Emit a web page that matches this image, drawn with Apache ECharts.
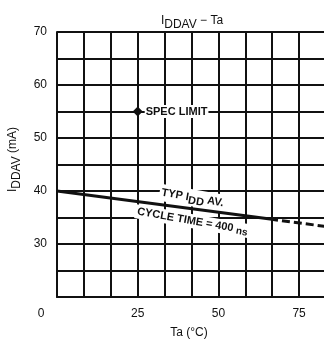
<!DOCTYPE html>
<html>
<head>
<meta charset="utf-8">
<script src="https://cdn.jsdelivr.net/npm/echarts@6/dist/echarts.min.js"></script>
<style>
html, body { margin: 0; padding: 0; background: #fff; }
#chart { width: 324px; height: 344px; }
</style>
</head>
<body>
<div id="chart"></div>
<script>
// data
var typLine = [[0, 40], [66, 34.7]];
var typLineDashed = [[66, 34.7], [83.3, 33.3]];
var specLimit = [[25, 55]];
var curveNotes = [[42, 38.7], [42, 34.3]];
var xTickLabels = [0, 25, 50, 75];
var yTickLabels = [30, 40, 50, 60, 70];

var font = 'Liberation Sans';
var ink = '#111';

var myChart = echarts.init(document.getElementById('chart'));
var option = {
	backgroundColor : '#fff',
	animation : false,
	title : {
		text : 'I{sub|DDAV} − Ta',
		left : 187,
		top : 6,
		textAlign : 'center',
		textStyle : {
			fontFamily : font,
			fontSize : 12,
			fontWeight : 'normal',
			color : ink,
			rich : {
				sub : { fontFamily : font, fontSize : 12, color : ink, padding : [8, 0, 0, 0] }
			}
		}
	},
	grid : {
		left : 57,
		right : -2,
		top : 32,
		bottom : 47,
		outerBoundsMode : 'none'
	},
	xAxis : {
		type : 'value',
		min : 0,
		max : 250 / 3,
		interval : 25 / 3,
		name : 'Ta (°C)',
		nameLocation : 'middle',
		nameGap : 30,
		nameTextStyle : { fontFamily : font, fontSize : 12, color : ink, padding : [0, 0, 0, -5] },
		axisLine : { lineStyle : { color : ink, width : 2 } },
		axisTick : { show : false },
		splitLine : { lineStyle : { color : ink, width : 2 } },
		axisLabel : {
			margin : 11,
			fontFamily : font,
			fontSize : 12,
			color : ink,
			showMaxLabel : false,
			formatter : function(v) {
				var r = Math.round(v);
				if (Math.abs(v - r) > 0.01 || xTickLabels.indexOf(r) < 0) return '';
				if (r === 0) return '{z|0}';
				return String(r);
			},
			rich : {
				z : { fontFamily : font, fontSize : 12, color : ink, padding : [0, 32, 0, 0] }
			}
		}
	},
	yAxis : {
		type : 'value',
		min : 20,
		max : 70,
		interval : 5,
		name : 'I{sub|DDAV} (mA)',
		nameLocation : 'middle',
		nameGap : 34,
		nameRotate : 90,
		nameTextStyle : {
			fontFamily : font,
			fontSize : 12,
			color : ink,
			padding : [0, 0, 0, 10],
			rich : {
				sub : { fontFamily : font, fontSize : 12, color : ink, padding : [8, 0, 0, 0] }
			}
		},
		axisLine : { show : true, lineStyle : { color : ink, width : 2 } },
		axisTick : { show : false },
		splitLine : { lineStyle : { color : ink, width : 2 } },
		axisLabel : {
			margin : 10,
			fontFamily : font,
			fontSize : 12,
			color : ink,
			formatter : function(v) {
				return yTickLabels.indexOf(v) >= 0 ? String(v) : '';
			}
		}
	},
	series : [ {
		type : 'line',
		data : typLine,
		symbol : 'none',
		lineStyle : { color : ink, width : 3 },
		z : 5
	}, {
		type : 'line',
		data : typLineDashed,
		symbol : 'none',
		lineStyle : { color : ink, width : 3, type : [8, 4] },
		z : 5
	}, {
		type : 'scatter',
		data : specLimit,
		symbol : 'diamond',
		symbolSize : 10,
		itemStyle : { color : ink, opacity : 1 },
		label : {
			show : true,
			position : 'right',
			distance : 2,
			formatter : 'SPEC LIMIT',
			fontFamily : font,
			fontSize : 11,
			fontWeight : 'bold',
			color : ink,
			opacity : 1,
			backgroundColor : '#fff',
			padding : [1, 1, 1, 1]
		},
		emphasis : { disabled : true },
		z : 6
	}, {
		type : 'scatter',
		data : curveNotes,
		symbolSize : 1,
		itemStyle : { color : 'rgba(0,0,0,0)', opacity : 1 },
		emphasis : { disabled : true },
		label : {
			show : true,
			position : 'inside',
			rotate : -10,
			fontFamily : font,
			fontSize : 11,
			fontWeight : 'bold',
			color : ink,
			opacity : 1,
			backgroundColor : '#fff',
			padding : [0, 2, 0, 2],
			formatter : function(p) {
				return p.dataIndex === 0 ? 'TYP I{sub|DD} AV.' : 'CYCLE TIME = 400 {s|ns}';
			},
			rich : {
				sub : { fontFamily : font, fontSize : 11, fontWeight : 'bold', color : ink, padding : [6, 0, 0, 0] },
				s : { fontFamily : font, fontSize : 10, fontWeight : 'bold', color : ink, padding : [4, 0, 0, 0] }
			}
		},
		z : 4
	} ]
};
myChart.setOption(option);
</script>
</body>
</html>
